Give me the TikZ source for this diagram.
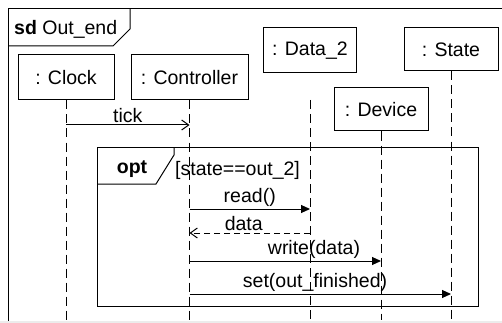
\documentclass[tikz,border=0pt]{standalone}
\usepackage{fontspec}
\setmainfont{Liberation Sans}
\usetikzlibrary{positioning}
\usetikzlibrary{arrows.meta}

\tikzset{
    lifebox/.style={draw, rectangle, line width=1pt, inner sep=0pt},
    lifeline/.style={line width=1pt, dash pattern=on 9pt off 5pt},
    callmsg/.style={line width=1pt, -{Triangle[length=9pt,width=8pt]}},
    asyncmsg/.style={line width=1pt, -{Straight Barb[length=7pt,width=10pt]}},
    replymsg/.style={line width=1pt, dash pattern=on 6pt off 4pt, -{Straight Barb[length=7pt,width=10pt]}},
    msglabel/.style={above, inner sep=1.5pt},
    fragline/.style={line width=1pt}
}

\begin{document}
\begin{tikzpicture}[x=1pt, y=-1pt, font=\fontsize{19.5}{23}\selectfont]
    \useasboundingbox (0,0) rectangle (502,323);
    \clip (0,0) rectangle (502,323);

    % outer frame, cut off on the right and at the bottom
    \draw[fragline] (8,335) -- (8,9) -- (510,9);
    \draw[fragline] (8,46) -- (113,46) -- (130,29) -- (130,9);
    \node [anchor=west, inner sep=0pt] (sdlabel) at (14,29) {\textbf{sd} Out\_end};
    \draw[gray!15, line width=1.5pt] (0,322) -- (502,322);

    % lifelines
    \node
    [
        lifebox,
        minimum width=96pt,
        minimum height=45pt
    ] (clock) at (66, 77.5) {: Clock};
    \node
    [
        lifebox,
        minimum width=117pt,
        minimum height=45pt
    ] (ctrl) at (189.5, 77.5) {: Controller};
    \node
    [
        lifebox,
        minimum width=93pt,
        minimum height=45pt
    ] (data2) at (310, 50.5) {: Data\_2};
    \node
    [
        lifebox,
        minimum width=94pt,
        minimum height=43pt
    ] (device) at (381, 109.5) {: Device};
    \node
    [
        lifebox,
        minimum width=94pt,
        minimum height=43pt
    ] (state) at (451, 49.5) {: State};

    \coordinate (bottom) at (0, 320);
    \coordinate (data2top) at (310, 100);
    \draw[lifeline] (clock) -- (clock |- bottom);
    \draw[lifeline] (ctrl) -- (ctrl |- bottom);
    \draw[lifeline] (data2top) -- (data2top |- bottom);
    \draw[lifeline] (device) -- (device |- bottom);
    \draw[lifeline] (state) -- (state |- bottom);

    % rows of the messages
    \coordinate (m1) at (0, 125);
    \coordinate (m2) at (0, 209);
    \coordinate (m3) at (0, 233);
    \coordinate (m4) at (0, 261);
    \coordinate (m5) at (0, 294);

    \draw[asyncmsg] (clock |- m1) -- (ctrl |- m1) node [msglabel, pos=0.5]{tick};

    % opt fragment
    \draw[fragline] (97,147) rectangle (478,306);
    \draw[fragline] (97,184) -- (156,184) -- (174,155) -- (174,147);
    \node [inner sep=0pt] (optlabel) at (132,169) {\textbf{opt}};
    \node [anchor=west, inner sep=0pt] (guard) at (175,170) {[state==out\_2]};

    \draw[callmsg] (ctrl |- m2) -- (data2 |- m2) node [msglabel, pos=0.5]{read()};
    \draw[replymsg] (data2 |- m3) -- (ctrl |- m3) node [msglabel, pos=0.55]{data};
    \draw[callmsg] (ctrl |- m4) -- (device |- m4) node [msglabel, pos=0.65]{write(data)};
    \draw[callmsg] (ctrl |- m5) -- (state |- m5) node [msglabel, pos=0.48]{set(out\_finished)};
\end{tikzpicture}
\end{document}
